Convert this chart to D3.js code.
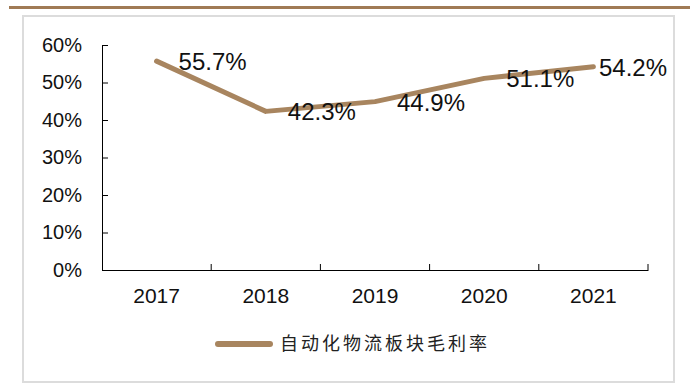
<!DOCTYPE html>
<html>
<head>
<meta charset="utf-8">
<script src="https://cdn.jsdelivr.net/npm/d3@7"></script>
<style>
  html, body { margin: 0; padding: 0; background: #fff; }
  svg { display: block; }
</style>
</head>
<body>
<svg id="chart" width="692" height="387"></svg>
<script>
// Gross margin of the automated logistics segment, 2017–2021
const years = ["2017", "2018", "2019", "2020", "2021"];
const margins = [55.7, 42.3, 44.9, 51.1, 54.2];
const yTicks = [0, 10, 20, 30, 40, 50, 60];
const seriesName = "自动化物流板块毛利率";

const lineColor = "#a8855f";
const svg = d3.select("#chart");

// header rule and frame
svg.append("rect").attr("x", 9).attr("y", 6).attr("width", 681).attr("height", 3).attr("fill", "#a07a55");
svg.append("rect").attr("x", 23).attr("y", 16).attr("width", 651).attr("height", 366)
  .attr("fill", "none").attr("stroke", "#dcdcdc").attr("stroke-width", 2);

const plot = { left: 102, right: 648, top: 45, bottom: 270 };

const x = d3.scaleBand().domain(years).range([plot.left, plot.right]);
const y = d3.scaleLinear().domain([0, 60]).range([plot.bottom, plot.top]);

const font = "'Liberation Sans', Arial, sans-serif";

// y axis
const yAxis = svg.append("g").attr("transform", `translate(${plot.left},0)`)
  .call(d3.axisLeft(y).tickValues(yTicks).tickSize(-6).tickPadding(20).tickFormat(d => d + "%"));
yAxis.selectAll("text").attr("font-family", font).attr("font-size", 20).attr("fill", "#111");

// x axis: ticks on band boundaries
const xAxis = svg.append("g").attr("transform", `translate(0,${plot.bottom})`)
  .call(d3.axisBottom(x).tickSize(0).tickPadding(18));
xAxis.selectAll("text").attr("font-family", font).attr("font-size", 21).attr("fill", "#111");
const bounds = years.map(d => x(d)).concat([x(years[years.length - 1]) + x.bandwidth()]);
xAxis.selectAll(".bound").data(bounds.slice(1)).join("line")
  .attr("class", "bound")
  .attr("x1", d => d).attr("x2", d => d).attr("y1", 0).attr("y2", -6)
  .attr("stroke", "#000");

svg.selectAll(".domain").attr("stroke", "#000");
svg.selectAll(".tick line").attr("stroke", "#000");

// series line
const pts = years.map((d, i) => ({ year: d, v: margins[i] }));
const cx = d => x(d.year) + x.bandwidth() / 2;
const line = d3.line().x(cx).y(d => y(d.v));
svg.append("path").datum(pts).attr("d", line)
  .attr("fill", "none").attr("stroke", lineColor).attr("stroke-width", 5)
  .attr("stroke-linejoin", "round").attr("stroke-linecap", "round");

// value labels, right of each point, kept inside the frame
const labelRight = 667;
svg.selectAll(".val").data(pts).join("text")
  .attr("class", "val")
  .attr("y", d => y(d.v) + 9)
  .attr("font-family", font).attr("font-size", 24).attr("fill", "#111")
  .text(d => d.v.toFixed(1) + "%")
  .attr("x", function (d) {
    const w = this.getComputedTextLength();
    return Math.min(cx(d) + 22, labelRight - w);
  });

// legend
const lg = svg.append("g").attr("transform", "translate(0,344)");
lg.append("line").attr("x1", 218).attr("x2", 270).attr("y1", 0).attr("y2", 0)
  .attr("stroke", lineColor).attr("stroke-width", 6).attr("stroke-linecap", "round");
lg.append("text").attr("x", 280).attr("y", 0).attr("dy", "0.35em")
  .attr("font-family", "'Noto Sans CJK SC', sans-serif").attr("font-size", 18)
  .attr("letter-spacing", 3).attr("fill", "#222")
  .text(seriesName);
</script>
</body>
</html>
